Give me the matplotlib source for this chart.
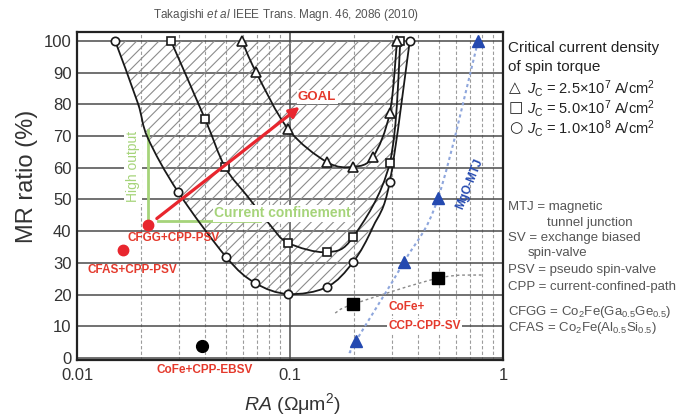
import numpy as np
import matplotlib
matplotlib.use("Agg")
import matplotlib.pyplot as plt
from matplotlib.path import Path
from matplotlib.patches import PathPatch
from matplotlib.ticker import LogLocator, NullFormatter

plt.rcParams['font.family'] = ['Liberation Sans', 'DejaVu Sans']
plt.rcParams['mathtext.fontset'] = 'custom'
plt.rcParams['mathtext.rm'] = 'Liberation Sans'
plt.rcParams['mathtext.it'] = 'Liberation Sans:italic'
plt.rcParams['mathtext.bf'] = 'Liberation Sans:bold'
plt.rcParams['hatch.linewidth'] = 0.8

# ---- critical-current-density boundary curves (RA in Ohm um^2, MR in %) ----
# knots along each curve; *_mk flags the knots that carry a marker
circ_ra = [0.0151, 0.0193, 0.0215, 0.0298, 0.0501, 0.0685, 0.098, 0.149, 0.198, 0.245, 0.294, 0.365]
circ_mr = [100, 80.4, 69.4, 52.4, 31.9, 23.7, 20.2, 22.4, 30.3, 41.3, 55.5, 100]
circ_mk = [1, 0, 0, 1, 1, 1, 1, 1, 1, 0, 1, 1]

sq_ra = [0.0276, 0.0399, 0.0495, 0.0635, 0.0806, 0.098, 0.149, 0.198, 0.294, 0.330]
sq_mr = [100, 75.4, 60.3, 50.8, 42.0, 36.3, 33.4, 38.2, 61.5, 100]
sq_mk = [1, 1, 1, 0, 0, 1, 1, 1, 1, 1]

tri_ra = [0.0595, 0.0692, 0.098, 0.149, 0.198, 0.245, 0.294, 0.318]
tri_mr = [100, 90.2, 72.2, 61.8, 60.3, 63.4, 77.3, 100]
tri_mk = [1, 1, 1, 1, 1, 1, 1, 1]

# ---- reported devices ----
psv_labels = ['CFAS+CPP-PSV', 'CFGG+CPP-PSV']
psv_ra = [0.0164, 0.0215]
psv_mr = [34.1, 42.0]

ebsv_ra = [0.0386]
ebsv_mr = [3.8]

ccp_ra = [0.198, 0.496]
ccp_mr = [17.0, 25.2]
ccp_trend_ra = [0.163, 0.198, 0.496, 0.805]
ccp_trend_mr = [14.2, 17.0, 25.2, 26.2]

mtj_ra = [0.204, 0.343, 0.496, 0.764]
mtj_mr = [5.4, 30.3, 50.5, 100]
mtj_trend_ra = [0.191, 0.204, 0.343, 0.496, 0.764]
mtj_trend_mr = [1.6, 5.4, 30.3, 50.5, 100]

goal_from = (0.0237, 44.0)
goal_to = (0.111, 79.2)

x_ticks = [0.01, 0.1, 1]
x_ticklabels = ['0.01', '0.1', '1']
y_ticks = list(range(0, 101, 10))

RED = '#e8262e'
RED_TXT = '#e4392c'
BLUE = '#2449b0'
GREEN = '#a6d47a'


def smooth_path(ra, mr):
    """Catmull-Rom spline through the knots, built in (log10 RA, MR) space."""
    P = np.column_stack([np.log10(ra), np.asarray(mr, float)])
    n = len(P)
    verts = [P[0]]
    codes = [Path.MOVETO]
    for i in range(n - 1):
        p0 = P[max(i - 1, 0)]
        p1 = P[i]
        p2 = P[i + 1]
        p3 = P[min(i + 2, n - 1)]
        c1 = p1 + (p2 - p0) / 6.0
        c2 = p2 - (p3 - p1) / 6.0
        verts += [c1, c2, p2]
        codes += [Path.CURVE4] * 3
    verts = np.array(verts)
    verts[:, 0] = 10 ** verts[:, 0]
    return verts, codes


fig = plt.figure(figsize=(6.76, 4.19), dpi=100)
ax = fig.add_axes([77 / 676, 1 - 360 / 419, 426 / 676, 328 / 419])
ax.set_xscale('log')
ax.set_xlim(0.01, 1)
ax.set_ylim(-0.6, 102.8)
ax.set_xticks(x_ticks)
ax.set_xticklabels(x_ticklabels)
ax.xaxis.set_minor_locator(LogLocator(base=10, subs=np.arange(2, 10)))
ax.xaxis.set_minor_formatter(NullFormatter())
ax.set_yticks(y_ticks)
ax.tick_params(which='both', length=0, labelsize=12, labelcolor='#333333')
ax.tick_params(axis='x', pad=6)
ax.tick_params(axis='y', pad=4)
ax.grid(axis='y', which='major', color='#4a4a4a', lw=1.1)
ax.grid(axis='x', which='major', color='#4a4a4a', lw=1.1)
ax.grid(axis='x', which='minor', color='#9c9c9c', lw=0.8, ls=(0, (3, 2)))
ax.set_axisbelow(True)
for s in ax.spines.values():
    s.set_linewidth(1.6)
    s.set_color('#222222')

# hatched window enclosed by the Jc = 1.0e8 curve and MR = 100 %
v, c = smooth_path(circ_ra, circ_mr)
v = np.vstack([v, v[0]])
c = c + [Path.CLOSEPOLY]
ax.add_patch(PathPatch(Path(v, c), facecolor='none', edgecolor='#8c8c8c',
                       lw=0, hatch='///', zorder=1))

# boundary curves with their markers
for ra, mr, mk, m, ms in [(circ_ra, circ_mr, circ_mk, 'o', 6),
                          (sq_ra, sq_mr, sq_mk, 's', 5.5),
                          (tri_ra, tri_mr, tri_mk, '^', 6.5)]:
    v, c = smooth_path(ra, mr)
    ax.add_patch(PathPatch(Path(v, c), fill=False, edgecolor='#1a1a1a', lw=1.3, zorder=3))
    sel = np.asarray(mk, bool)
    ax.plot(np.asarray(ra)[sel], np.asarray(mr)[sel], ls='none', marker=m, ms=ms,
            mfc='white', mec='#1a1a1a', mew=1.2, zorder=4)

# trend guides for CCP-CPP-SV and MgO-MTJ
v, c = smooth_path(ccp_trend_ra, ccp_trend_mr)
ax.add_patch(PathPatch(Path(v, c), fill=False, edgecolor='#8a8a8a', lw=1.0,
                       ls=(0, (2, 2)), zorder=3))
v, c = smooth_path(mtj_trend_ra, mtj_trend_mr)
ax.add_patch(PathPatch(Path(v, c), fill=False, edgecolor='#8ea6dc', lw=1.5,
                       ls=(0, (1.5, 1.5)), zorder=3))

# green guides: "High output" and "Current confinement"
ax.plot([0.0215, 0.0215], [43.5, 72.0], color=GREEN, lw=2, zorder=2)
ax.plot([0.0240, 0.0724], [43.2, 43.2], color=GREEN, lw=2, zorder=2)
ax.text(0.0183, 60.5, 'High output', rotation=90, color=GREEN, fontsize=10,
        ha='center', va='center', zorder=5,
        bbox=dict(boxstyle='square,pad=0.15', fc='white', ec='none'))
ax.text(0.0922, 45.7, 'Current confinement', color=GREEN, fontsize=10, fontweight='bold',
        ha='center', va='center', zorder=5,
        bbox=dict(boxstyle='square,pad=0.1', fc='white', ec='none'))

# red arrow toward the goal
ax.annotate('', xy=goal_to, xytext=goal_from, zorder=6,
            arrowprops=dict(arrowstyle='-|>', color=RED, lw=2.3, mutation_scale=15,
                            shrinkA=0, shrinkB=0))
ax.text(0.109, 82.3, 'GOAL', color=RED_TXT, fontsize=9.5, fontweight='bold',
        ha='left', va='center', zorder=6,
        bbox=dict(boxstyle='square,pad=0.1', fc='white', ec='none'))

# devices
ax.plot(psv_ra, psv_mr, ls='none', marker='o', ms=7.5, color=RED, zorder=7)
ax.text(0.01735, 37.9, psv_labels[1], color=RED_TXT, fontsize=8.5, fontweight='bold',
        ha='left', va='center', zorder=7)
ax.text(0.01126, 27.8, psv_labels[0], color=RED_TXT, fontsize=8.5, fontweight='bold',
        ha='left', va='center', zorder=7)

ax.plot(ebsv_ra, ebsv_mr, ls='none', marker='o', ms=8.5, color='black', zorder=7)
ax.text(0.0399, -3.8, 'CoFe+CPP-EBSV', color=RED_TXT, fontsize=8.5, fontweight='bold',
        ha='center', va='center', clip_on=False, zorder=7)

ax.plot(ccp_ra, ccp_mr, ls='none', marker='s', ms=8.5, color='black', zorder=7)
ax.text(0.2885, 16.1, 'CoFe+', color=RED_TXT, fontsize=8.5, fontweight='bold',
        ha='left', va='center', zorder=6,
        bbox=dict(boxstyle='square,pad=0.1', fc='white', ec='none'))
ax.text(0.2885, 10.1, 'CCP-CPP-SV', color=RED_TXT, fontsize=8.5, fontweight='bold',
        ha='left', va='center', zorder=6,
        bbox=dict(boxstyle='square,pad=0.1', fc='white', ec='none'))

ax.plot(mtj_ra, mtj_mr, ls='none', marker='^', ms=8, color=BLUE, zorder=7,
        clip_on=False)
ax.text(0.70, 55, 'MgO-MTJ', color=BLUE, fontsize=8.5, fontweight='bold',
        rotation=68, ha='center', va='center', zorder=7)

# titles and axis labels
fig.text(286 / 676, 1 - 15 / 419,
         r'Takagishi $\it{et\ al}$ IEEE Trans. Magn. 46, 2086 (2010)',
         fontsize=8.5, color='#555555', ha='center', va='center')
fig.text(27 / 676, 1 - 176 / 419, 'MR ratio (%)', rotation=90, fontsize=17,
         color='#333333', ha='center', va='center')
fig.text(292 / 676, 1 - 404 / 419, r'$\it{RA}$ (Ωμm$^2$)', fontsize=14,
         color='#333333', ha='center', va='center')

# right-hand key
KX = 508 / 676
fig.text(KX, 1 - 48 / 419, 'Critical current density', fontsize=11, color='#222222', va='center')
fig.text(KX, 1 - 67 / 419, 'of spin torque', fontsize=11, color='#222222', va='center')
key_syms = ['△', '□', '○']
key_txt = [r'$J_{\rm C}$ = 2.5×10$^7$ A/cm$^2$',
           r'$J_{\rm C}$ = 5.0×10$^7$ A/cm$^2$',
           r'$J_{\rm C}$ = 1.0×10$^8$ A/cm$^2$']
for yy, s, t in zip([88, 108, 128], key_syms, key_txt):
    fig.text(509 / 676, 1 - yy / 419, s, fontsize=11, fontweight='bold',
             family=['DejaVu Sans'], color='#222222', va='center')
    fig.text(527 / 676, 1 - yy / 419, t, fontsize=10.5, color='#222222', va='center')

notes = [(508, 207, 'MTJ = magnetic'),
         (547, 223, 'tunnel junction'),
         (508, 238, 'SV = exchange biased'),
         (528, 253, 'spin-valve'),
         (508, 270, 'PSV = pseudo spin-valve'),
         (508, 287, 'CPP = current-confined-path'),
         (508, 312, r'CFGG = Co$_2$Fe(Ga$_{0.5}$Ge$_{0.5}$)'),
         (508, 328, r'CFAS = Co$_2$Fe(Al$_{0.5}$Si$_{0.5}$)')]
for x0, y0, t in notes:
    fig.text(x0 / 676, 1 - y0 / 419, t, fontsize=9.5, color='#555555', va='center')

fig.savefig('out.png', dpi=100)
